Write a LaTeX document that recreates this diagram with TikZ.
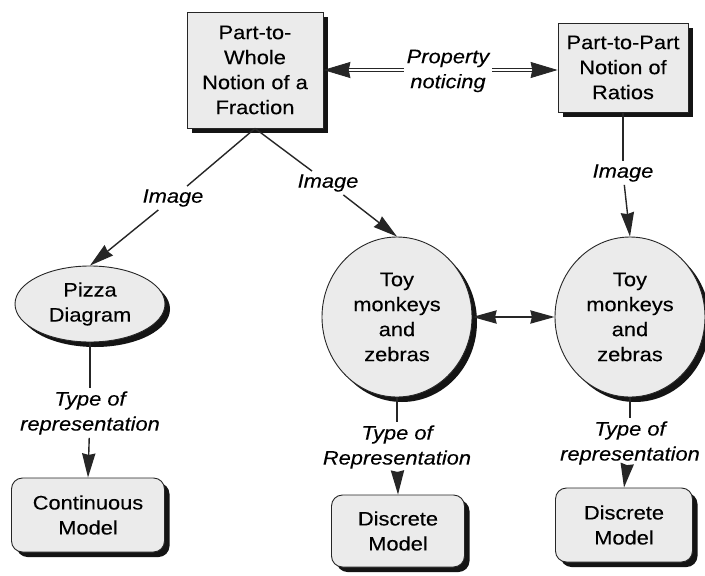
\documentclass[tikz,border=0pt]{standalone}
\usepackage{fontspec}
\setmainfont[FakeStretch=1.12, FakeBold=0.2]{Liberation Sans}
\usetikzlibrary{shapes.geometric,arrows.meta,shadows}
\definecolor{lnc}{HTML}{262626}
\definecolor{nfill}{HTML}{EBEBEB}
\tikzset{
  txt/.style={font=\fontsize{19.5}{25}\selectfont, align=center},
  lbl/.style={txt, font=\fontsize{19.5}{25}\selectfont\itshape, inner sep=3pt},
  shad/.style={drop shadow={shadow xshift=5pt, shadow yshift=-5pt, fill=black!92, opacity=1}},
  sqbox/.style={txt, draw=lnc, line width=0.9pt, fill=nfill, shad, inner sep=0pt},
  rbox/.style={sqbox, rounded corners=11pt},
  oval/.style={txt, ellipse, draw=lnc, line width=0.9pt, fill=nfill, shad, inner sep=0pt},
  conn/.style={draw=lnc, line width=1.4pt},
  bigtip/.tip={Stealth[scale length=2.6, scale width=1.9, inset=0.6pt]},
  arr/.style={conn, -bigtip},
  darr/.style={conn, bigtip-bigtip},
  dbl/.style={draw=lnc, line width=0.8pt, double=white, double distance=2.2pt, -{Stealth[scale length=2.9, scale width=2.3, inset=0.6pt]}}
}
\begin{document}
\begin{tikzpicture}[x=1pt, y=-1pt]
\useasboundingbox[fill=white] (0,0) rectangle (705,576);

\node[sqbox, minimum width=136pt, minimum height=116pt] (b1) at (255,70) {Part-to-\\Whole\\Notion of a\\Fraction};
\node[sqbox, minimum width=130pt, minimum height=89pt] (b2) at (623,67.5) {Part-to-Part\\Notion of\\Ratios};
\node[lbl] (lp) at (448,71) {Property\\noticing};

\node[oval, minimum width=150pt, minimum height=76pt] (pz) at (90,304) {Pizza\\Diagram};
\node[oval, minimum width=150pt, minimum height=160pt] (c1) at (397,317) {Toy\\monkeys\\and\\zebras};
\node[oval, minimum width=150pt, minimum height=160pt] (c2) at (630,317) {Toy\\monkeys\\and\\zebras};

\node[lbl] (li1) at (173,198) {Image};
\node[lbl] (li2) at (328,183) {Image};
\node[lbl] (li3) at (623,173) {Image};

\node[lbl] (lt1) at (90,413) {Type of\\representation};
\node[lbl] (lt2) at (397,447) {Type of\\Representation};
\node[lbl] (lt3) at (630,443) {Type of\\representation};

\node[rbox, minimum width=153pt, minimum height=74pt] (m1) at (88,515) {Continuous\\Model};
\node[rbox, minimum width=133pt, minimum height=72pt] (m2) at (398,531) {Discrete\\Model};
\node[rbox, minimum width=137pt, minimum height=74pt] (m3) at (624,525) {Discrete\\Model};

% property noticing
\draw[dbl] (lp.west |- 0,70) -- (b1.east |- 0,70);
\draw[dbl] (lp.east |- 0,70) -- (b2.west |- 0,70);

% image links
\draw[conn] (b1.south) -- (li1);
\draw[arr] (li1) -- (pz.north);
\draw[conn] (b1.south) -- (li2);
\draw[arr] (li2) -- (c1.north);
\draw[conn] (b2.south) -- (li3);
\draw[arr] (li3) -- (c2.north);

% between circles
\draw[darr] (c1.east) -- (c2.west);

% type of representation
\draw[conn] (pz.south) -- (lt1);
\draw[arr] (lt1) -- (m1.north);
\draw[conn] (c1.south) -- (lt2);
\draw[arr] (lt2) -- (m2.north);
\draw[conn] (c2.south) -- (lt3);
\draw[arr] (lt3) -- (m3.north);
\end{tikzpicture}
\end{document}
